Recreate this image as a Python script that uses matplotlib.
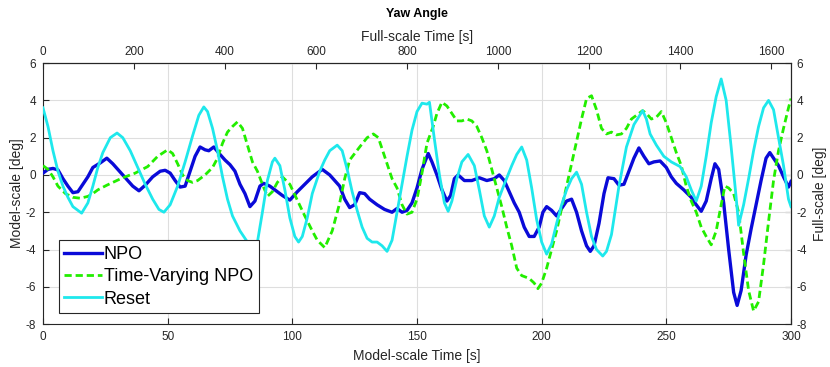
import numpy as np
import matplotlib
matplotlib.use("Agg")
import matplotlib.pyplot as plt

plt.rcParams['font.family'] = ['Liberation Sans', 'DejaVu Sans']
plt.rcParams['axes.unicode_minus'] = False

# ---------------- data (model-scale time [s], yaw [deg]) ----------------
npo_t = [0, 2, 4, 6, 8, 10, 12, 14, 16, 18, 20, 23, 25.6, 28, 31, 34, 36, 38.5, 41, 44, 47, 49, 51, 53,
         55, 57, 59, 61, 63, 65, 66.5, 68.5, 71, 73, 75, 77, 79, 81, 83, 85, 87, 88.5, 91, 94, 96, 99,
         102, 105, 108, 112, 115, 117, 119, 121, 123, 125, 127, 129, 131, 134, 137, 140, 142, 144, 146,
         148, 150, 152, 154.5, 156, 158, 160, 162, 163.5, 165, 166.5, 169, 172, 175, 178, 181, 183, 185,
         187, 189, 191, 193, 195, 197, 199, 200.5, 202, 204, 206, 208, 210, 212, 214, 216, 218, 219.5,
         221, 223, 225, 226.6, 229, 231, 233, 235, 237, 239, 241, 243, 245, 247.5, 250, 252, 254, 257,
         260, 262, 264, 266, 268, 269.5, 271, 273, 275, 277, 278.4, 280, 282, 284, 286, 288, 290, 291.5,
         293, 295, 297, 299, 300]
npo_y = [0.1, 0.3, 0.35, 0.27, -0.2, -0.6, -0.95, -0.9, -0.5, -0.1, 0.4, 0.65, 0.9, 0.6, 0.15, -0.3,
         -0.6, -0.85, -0.55, -0.1, 0.2, 0.25, 0.1, -0.3, -0.65, -0.6, 0.2, 1.0, 1.5, 1.35, 1.3, 1.5, 1.1,
         0.8, 0.55, 0.2, -0.5, -1.0, -1.7, -1.4, -0.6, -0.45, -0.6, -0.9, -1.1, -1.35, -0.9, -0.5, -0.1,
         0.3, 0.0, -0.3, -0.6, -1.3, -1.75, -1.6, -0.95, -1.0, -1.3, -1.6, -1.85, -2.0, -1.8, -2.0, -1.9,
         -1.5, -0.7, 0.3, 1.15, 0.7, 0.0, -0.8, -1.4, -1.1, -0.2, 0.0, -0.3, -0.3, -0.15, -0.3, -0.2, 0.0,
         -0.3, -0.9, -1.5, -2.0, -2.8, -3.3, -3.3, -2.8, -2.0, -1.7, -1.9, -2.2, -1.8, -1.4, -1.3, -2.0,
         -3.0, -3.8, -4.1, -3.8, -2.6, -1.0, -0.15, -0.2, -0.55, -0.5, 0.2, 0.9, 1.45, 1.0, 0.6, 0.7, 0.75,
         0.4, -0.1, -0.45, -0.8, -1.2, -1.6, -1.95, -1.4, -0.2, 0.6, 0.3, -1.5, -4.0, -6.3, -7.0, -6.2,
         -4.3, -2.9, -1.6, -0.3, 0.9, 1.2, 0.9, 0.5, -0.1, -0.65, -0.35]

tv_t = [0, 2, 4, 6, 9, 12, 15, 18, 20, 22, 25.6, 28, 32, 37, 42, 46, 50, 52, 54, 56, 58, 60, 62, 65,
        68, 70, 72, 74, 76, 78, 80, 82, 84, 86, 88, 90, 92, 94, 96, 99, 102, 105, 108, 110, 113, 116,
        119, 121, 123, 127, 130, 132.5, 134.5, 137, 140, 142, 144, 146, 148, 150, 152, 154, 156.5, 158,
        160, 162, 164, 166, 168, 170, 172, 174, 176, 178, 180, 182, 184, 186, 188, 190, 192, 195, 197,
        198.5, 200, 202, 204, 206, 208, 210, 212, 214, 216, 218, 220, 222, 224, 226, 228, 230, 232, 234,
        236, 238, 240.5, 242, 244, 246, 248, 250, 252, 254, 256, 258, 260, 262, 264, 266, 268, 270, 272,
        273.5, 275, 277, 279, 281, 283, 285, 287, 289, 291, 293, 295, 297, 299, 300]
tv_y = [0.5, 0.3, -0.1, -0.6, -1.0, -1.2, -1.25, -1.15, -1.0, -0.8, -0.55, -0.4, -0.15, 0.1, 0.45, 1.0,
        1.35, 1.15, 0.6, 0.0, -0.3, -0.4, -0.3, 0.0, 0.4, 0.9, 1.7, 2.3, 2.6, 2.85, 2.5, 1.6, 0.7, 0.2,
        -0.5, -1.15, -0.9, -0.4, -0.1, -0.5, -1.35, -2.2, -3.0, -3.5, -3.9, -3.0, -1.5, -0.2, 0.8, 1.5,
        2.0, 2.2, 2.0, 1.0, -0.2, -0.7, -1.6, -2.1, -2.0, -1.3, 0.1, 1.7, 2.6, 3.3, 3.9, 3.7, 3.3, 2.9,
        2.9, 3.0, 2.9, 2.6, 2.0, 1.3, 0.3, -0.7, -1.7, -2.8, -3.8, -5.0, -5.4, -5.55, -5.8, -6.1, -5.8,
        -5.0, -4.0, -3.0, -1.8, -0.6, 0.6, 1.8, 3.0, 4.1, 4.25, 3.5, 2.5, 2.2, 2.3, 2.15, 2.2, 2.5, 3.0,
        3.2, 3.45, 3.3, 3.0, 3.1, 3.4, 2.8, 2.0, 1.2, 0.5, -0.6, -1.4, -2.0, -2.8, -3.3, -3.75, -3.0,
        -1.6, -0.6, -0.7, -1.0, -2.0, -4.2, -6.2, -7.3, -6.8, -4.8, -2.5, -0.3, 1.3, 2.5, 3.6, 4.1]

rs_t = [0, 2, 4, 6, 8, 10, 12, 15.5, 18, 20, 22, 24, 27, 29.7, 32, 35, 38, 41, 44, 46.5, 48.5, 51, 54,
        57, 60, 62.5, 64.5, 66, 68, 70, 72, 74, 76, 79, 82, 84, 86, 88, 90, 92, 93, 95, 97, 99, 101,
        102.5, 104, 106, 108, 111, 113, 115, 118, 120, 122, 124, 126, 128, 130, 132, 134, 136, 138, 140,
        142, 144, 146, 148, 150, 152, 154, 155, 157, 159, 161, 162.5, 164, 166, 168, 170.5, 173, 175,
        177, 179, 181, 183, 185, 188, 190, 192, 194, 196, 198, 200, 202, 204, 206, 208, 210, 212, 214,
        216, 218, 220, 222, 224.5, 226, 228, 231, 234, 237, 240.5, 242, 243.5, 246, 249, 252, 255.5, 258,
        260, 262, 264, 266, 268, 270, 272, 274, 276, 278, 279, 281, 283, 285, 287, 289, 291, 293, 295,
        297, 299, 300]
rs_y = [3.6, 2.6, 1.3, 0.2, -0.6, -1.2, -1.7, -2.05, -1.5, -0.6, 0.4, 1.2, 2.0, 2.25, 2.0, 1.3, 0.4,
        -0.5, -1.3, -1.85, -2.0, -1.6, -0.6, 0.7, 2.1, 3.2, 3.65, 3.4, 2.5, 1.3, -0.1, -1.3, -2.2, -3.0,
        -3.6, -3.9, -3.6, -2.0, -0.3, 0.7, 0.9, 0.5, -0.8, -2.3, -3.3, -3.6, -3.3, -2.3, -1.0, 0.2, 0.8,
        1.3, 1.6, 1.3, 0.3, -0.9, -1.9, -2.8, -3.4, -3.6, -3.6, -3.8, -4.1, -3.5, -2.0, -0.5, 1.0, 2.4,
        3.4, 3.85, 3.8, 3.9, 1.9, 0.0, -1.5, -1.95, -1.4, -0.2, 0.7, 1.1, 0.5, -0.8, -2.2, -2.8, -2.2,
        -1.2, -0.5, 0.5, 1.1, 1.5, 0.8, -0.7, -2.4, -3.6, -4.25, -3.7, -2.6, -1.6, -0.8, -0.2, 0.15,
        -0.5, -2.0, -3.3, -4.0, -4.35, -4.1, -3.2, -0.6, 1.5, 2.7, 3.45, 3.0, 2.2, 1.6, 1.0, 0.7, 0.45,
        -0.1, -0.8, -1.4, -0.6, 1.0, 2.8, 4.2, 5.15, 4.0, 1.5, -1.2, -2.7, -1.6, -0.2, 1.3, 2.6, 3.6,
        4.0, 3.5, 2.0, 0.5, -1.3, -1.7]

series_labels = ["NPO", "Time-Varying NPO", "Reset"]
title = "Yaw Angle"
scale = np.sqrt(30.0)

# ---------------- figure ----------------
fig = plt.figure(figsize=(8.3, 3.67), dpi=100)
ax = fig.add_axes([0.0518, 0.117, 0.9012, 0.711])

ax.plot(npo_t, npo_y, color='#0a0ad8', lw=2.4, label=series_labels[0], zorder=3)
ax.plot(tv_t, tv_y, color='#22ee00', lw=2.0, ls=(0, (2.6, 1.4)), label=series_labels[1], zorder=4)
ax.plot(rs_t, rs_y, color='#1ee8ec', lw=2.0, label=series_labels[2], zorder=5)

ax.set_xlim(0, 300)
ax.set_ylim(-8, 6)
ax.set_xticks(np.arange(0, 301, 50))
ax.set_yticks(np.arange(-8, 7, 2))
ax.grid(True, color='#dedede', lw=0.8)
ax.set_axisbelow(True)

dark = '#262626'
for s in ax.spines.values():
    s.set_color(dark)
    s.set_linewidth(0.8)
ax.tick_params(direction='in', length=4, labelsize=8.5, colors=dark, width=0.8, pad=5)
ax.set_xlabel("Model-scale Time [s]", fontsize=10, color=dark, labelpad=4)
ax.set_ylabel("Model-scale [deg]", fontsize=10, color=dark, labelpad=1)

top = ax.secondary_xaxis('top', functions=(lambda x: x * scale, lambda x: x / scale))
top.set_xticks(np.arange(0, 1601, 200))
top.tick_params(direction='in', length=4, labelsize=8.5, colors=dark, width=0.8, pad=4)
top.set_xlabel("Full-scale Time [s]", fontsize=10, color=dark, labelpad=3)

right = ax.secondary_yaxis('right')
right.set_yticks(np.arange(-8, 7, 2))
right.tick_params(direction='in', length=4, labelsize=8.5, colors=dark, width=0.8, pad=4)
right.set_ylabel("Full-scale [deg]", fontsize=10, color=dark, labelpad=4)

ax.set_title(title, fontsize=9, fontweight='bold', color='black', pad=33)

leg = ax.legend(loc='lower left', bbox_to_anchor=(0.021, 0.042), fontsize=13, frameon=True,
                fancybox=False, framealpha=1, edgecolor=dark, handlelength=2.1,
                handletextpad=0.1, labelspacing=0.3, borderpad=0.3, borderaxespad=0)
leg.get_frame().set_linewidth(0.8)
leg.set_zorder(10)

fig.savefig("out.png", dpi=100)
